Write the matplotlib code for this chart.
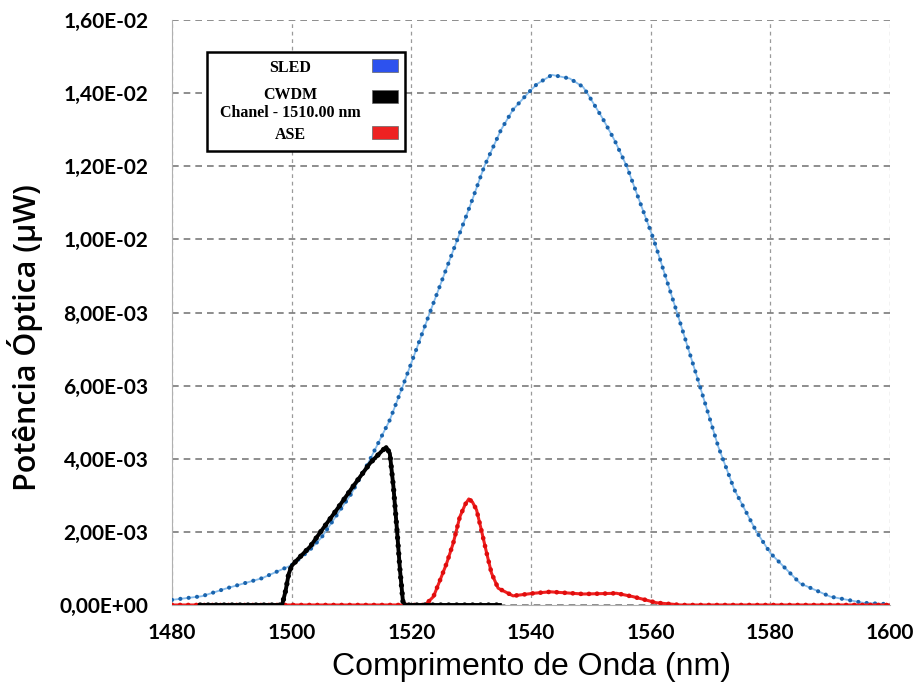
import matplotlib
matplotlib.use('agg')
import matplotlib.pyplot as plt
from matplotlib.patches import Rectangle
from matplotlib.ticker import FuncFormatter, MultipleLocator

# SLED spectrum
sled_nm = [1480, 1485, 1489, 1495, 1500, 1503, 1505, 1510, 1513, 1516.4, 1518.6,
           1523.1, 1527.7, 1530, 1532.2, 1535, 1537, 1539.5, 1541, 1543.5, 1545,
           1546.5, 1548.7, 1549.4, 1552, 1554, 1556, 1560.5, 1564.4, 1568.2,
           1571.3, 1574, 1577.7, 1580, 1585, 1590, 1595.5, 1600]
sled_pw = [1.4e-4, 2.4e-4, 4.5e-4, 7.3e-4, 1.09e-3, 1.5e-3, 1.85e-3, 3.05e-3, 3.95e-3,
           5.06e-3, 6.0e-3, 8.0e-3, 1.0e-2, 1.1e-2, 1.2e-2, 1.3e-2, 1.355e-2, 1.4e-2,
           1.425e-2, 1.45e-2, 1.445e-2, 1.44e-2, 1.417e-2, 1.40e-2, 1.33e-2, 1.27e-2,
           1.2e-2, 1.0e-2, 8.0e-3, 6.0e-3, 4.33e-3, 3.15e-3, 2.0e-3, 1.42e-3, 5.9e-4,
           2.3e-4, 6e-5, 2e-5]

# CWDM channel 1510 nm
cwdm_nm = [1484.7, 1498.4, 1499.0, 1499.5, 1500, 1501, 1503.1, 1504.7, 1507.5, 1510.2,
           1513.1, 1515.0, 1515.8, 1516.4, 1517.0, 1517.6, 1518.1, 1518.6, 1519.0, 1534.8]
cwdm_pw = [0, 0, 4e-4, 8.5e-4, 1.07e-3, 1.25e-3, 1.6e-3, 1.97e-3, 2.6e-3, 3.23e-3,
           3.88e-3, 4.2e-3, 4.32e-3, 4.15e-3, 3.24e-3, 2.05e-3, 9.6e-4, 9e-5, 0, 0]

# ASE
ase_nm = [1480, 1522.3, 1523.7, 1524.8, 1525.9, 1527.0, 1528.1, 1529.0, 1529.6, 1530.2,
          1530.9, 1531.7, 1532.6, 1533.4, 1534.5, 1537, 1540.4, 1543.2, 1548.7, 1554.3,
          1557, 1561, 1565, 1600]
ase_pw = [0, 0, 2.3e-4, 6.8e-4, 1.14e-3, 1.69e-3, 2.41e-3, 2.75e-3, 2.9e-3, 2.82e-3,
          2.6e-3, 2.05e-3, 1.41e-3, 8.7e-4, 4.6e-4, 2.5e-4, 3.2e-4, 3.6e-4, 3.0e-4,
          3.2e-4, 2.3e-4, 6e-5, 0, 0]

legend_labels = ['SLED', 'CWDM\nChanel - 1510.00 nm', 'ASE']
legend_colors = ['#2d52ee', '#000000', '#ee2222']

fig = plt.figure(figsize=(9.16, 6.86), dpi=100)
ax = fig.add_axes([0.1878, 0.1181, 0.7838, 0.8527])

# dotted look: base line + round dots on top
ax.plot(sled_nm, sled_pw, color='#86bcec', lw=1.3, zorder=2)
ax.plot(sled_nm, sled_pw, color='#1a64ad', lw=3.0, linestyle=(0, (0.01, 2.0)),
        dash_capstyle='round', zorder=3)
ax.plot(ase_nm, ase_pw, color='#f02020', lw=2.2, zorder=4)
ax.plot(ase_nm, ase_pw, color='#e00c0c', lw=3.4, linestyle=(0, (0.01, 1.7)),
        dash_capstyle='round', zorder=5)
ax.plot(cwdm_nm, cwdm_pw, color='#000000', lw=2.8, zorder=6)
ax.plot(cwdm_nm, cwdm_pw, color='#000000', lw=3.8, linestyle=(0, (0.01, 1.5)),
        dash_capstyle='round', zorder=7)

ax.set_xlim(1480, 1600)
ax.set_ylim(0, 0.016)
ax.xaxis.set_major_locator(MultipleLocator(20))
ax.yaxis.set_major_locator(MultipleLocator(0.002))
ax.yaxis.set_major_formatter(FuncFormatter(lambda v, p: f'{v:.2E}'.replace('.', ',')))

ax.grid(axis='y', color='#7a7a7a', lw=1.2, linestyle=(0, (4, 3)))
ax.grid(axis='x', color='#9a9a9a', lw=0.9, linestyle=(0, (3, 3)))
ax.set_axisbelow(True)
for s in ['top', 'right']:
    ax.spines[s].set_visible(False)
for s in ['left', 'bottom']:
    ax.spines[s].set_color('#b0b0b0')
    ax.spines[s].set_linewidth(0.8)

ax.tick_params(axis='y', length=0, pad=17)
ax.tick_params(axis='x', length=0, pad=13)
for lab in ax.get_xticklabels() + ax.get_yticklabels():
    lab.set_fontfamily('Lato')
    lab.set_fontweight('bold')
    lab.set_fontsize(15)

fig.text(0.58, 1 - 667 / 686, 'Comprimento de Onda (nm)', ha='center', va='center',
         fontsize=23, family='Liberation Sans')
fig.text(25 / 916, 1 - 338 / 686, 'Potência Óptica (µW)', ha='center', va='center',
         rotation=90, fontsize=22, family='Open Sans', fontweight='semibold')

# legend box drawn by hand
fig.add_artist(Rectangle((207 / 916, 1 - 151 / 686), 198 / 916, 99 / 686,
                         transform=fig.transFigure, facecolor='white',
                         edgecolor='black', lw=1.8, zorder=10))
text_y = [68, 104, 135]
patch_y = [72, 103, 139]
for lab, col, ty, py in zip(legend_labels, legend_colors, text_y, patch_y):
    fig.text(290 / 916, 1 - ty / 686, lab, ha='center', va='center',
             family='Liberation Serif', fontweight='bold', fontsize=11.5,
             linespacing=1.2, zorder=11)
    fig.add_artist(Rectangle((372 / 916, 1 - py / 686), 26 / 916, 13 / 686,
                             transform=fig.transFigure, facecolor=col,
                             edgecolor='#666666', lw=0.5, zorder=11))

fig.savefig('out.png', dpi=100)
